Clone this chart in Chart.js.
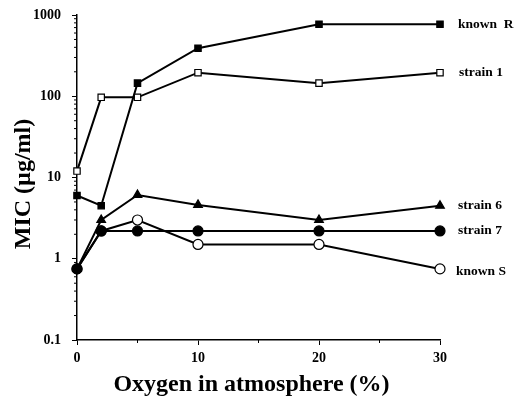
<!DOCTYPE html>
<html><head><meta charset="utf-8">
<script src="https://cdn.jsdelivr.net/npm/chart.js@4/dist/chart.umd.min.js"></script>
<style>html,body{margin:0;padding:0;background:#fff}#c{display:block}</style>
</head><body>
<canvas id="c" width="518" height="397"></canvas>
<script>
const oxygen = [0, 2, 5, 10, 20, 30];
const knownR = [6, 4.5, 145, 390, 770, 770];
const strain1 = [12, 97, 97, 195, 145, 195];
const strain6 = [0.75, 3.0, 6.1, 4.6, 3.0, 4.5];
const strain7 = [0.75, 2.2, 2.2, 2.2, 2.2, 2.2];
const knownS = [0.75, 2.2, 3.0, 1.5, 1.5, 0.75];
const seriesNames = ['known  R', 'strain 1', 'strain 6', 'strain 7', 'known S'];
const yDecades = [0.1, 1, 10, 100, 1000];
const xMajor = [0, 10, 20, 30];
const xMinor = [5, 15, 25];
const xTitle = 'Oxygen in atmosphere (%)';
const yTitle = 'MIC (µg/ml)';

const FONT = '"Liberation Serif", "Times New Roman", serif';
const pts = arr => arr.map((v, i) => ({x: oxygen[i], y: v}));
function ds(label, data, style, fill, r) {
  return {label, data: pts(data), borderColor: '#000', borderWidth: 2,
    pointStyle: style, pointRadius: r,
    pointBackgroundColor: fill, pointBorderColor: '#000', pointBorderWidth: 1.2,
    tension: 0, showLine: true, clip: false};
}
const extras = {
  id: 'extras',
  afterDraw(chart) {
    const ctx = chart.ctx, xs = chart.scales.x, ys = chart.scales.y;
    ctx.save(); ctx.strokeStyle = '#000'; ctx.lineWidth = 1;
    const b = ys.bottom, l = xs.left;
    ctx.beginPath();
    xMinor.forEach(v => { const p = xs.getPixelForValue(v); ctx.moveTo(p, b); ctx.lineTo(p, b + 3); });
    for (let d = 0.1; d < 1000; d *= 10) {
      for (let k = 2; k <= 9; k++) {
        const p = ys.getPixelForValue(d * k);
        ctx.moveTo(l, p); ctx.lineTo(l - 3, p);
      }
    }
    ctx.stroke();
    ctx.fillStyle = '#000';
    // series labels
    ctx.font = 'bold 13.5px ' + FONT;
    ctx.textBaseline = 'middle'; ctx.textAlign = 'left';
    const offs = [0, 0, 0, 0, 3];
    const dx = [18, 19, 18, 18, 16];
    chart.data.datasets.forEach((d, i) => {
      const meta = chart.getDatasetMeta(i);
      const el = meta.data[meta.data.length - 1];
      ctx.fillText(seriesNames[i], el.x + dx[i], el.y + offs[i]);
    });
    // axis titles
    ctx.font = 'bold 24px ' + FONT;
    ctx.textAlign = 'center';
    ctx.fillText(xTitle, (xs.left + xs.right) / 2 - 7, 385);
    ctx.translate(24, 184);
    ctx.rotate(-Math.PI / 2);
    ctx.fillText(yTitle, 0, 0);
    ctx.restore();
  }
};
new Chart(document.getElementById('c'), {
  type: 'scatter',
  data: {datasets: [
    ds('known R', knownR, 'rect', '#000', 4.5),
    ds('strain 1', strain1, 'rect', '#fff', 4.5),
    ds('strain 6', strain6, 'triangle', '#000', 5),
    ds('strain 7', strain7, 'circle', '#000', 5),
    ds('known S', knownS, 'circle', '#fff', 5),
  ]},
  options: {
    responsive: false, animation: false,
    layout: {padding: {left: 4, right: 78, top: 15, bottom: 4}},
    plugins: {legend: {display: false}, tooltip: {enabled: false}},
    scales: {
      x: {type: 'linear', min: 0, max: 30,
        afterBuildTicks: s => { s.ticks = xMajor.map(v => ({value: v})); },
        afterFit: s => { s.height = 53; s.paddingLeft = 0; s.paddingRight = 0; },
        border: {color: '#000', width: 1.5},
        grid: {drawOnChartArea: false, tickLength: 5, tickColor: '#000', tickWidth: 1},
        ticks: {color: '#000', font: {family: FONT, weight: 'bold', size: 14}, padding: 5, maxRotation: 0}
      },
      y: {type: 'logarithmic', min: 0.1, max: 1000,
        afterBuildTicks: s => { s.ticks = yDecades.map(v => ({value: v})); },
        afterFit: s => { s.width = 73; s.paddingTop = 0; s.paddingBottom = 0; },
        border: {color: '#000', width: 1.5},
        grid: {drawOnChartArea: false, tickLength: 5, tickColor: '#000', tickWidth: 1},
        ticks: {color: '#000', font: {family: FONT, weight: 'bold', size: 14}, padding: 11,
          callback: v => String(v)}
      }
    }
  },
  plugins: [extras]
});
</script>
</body></html>
